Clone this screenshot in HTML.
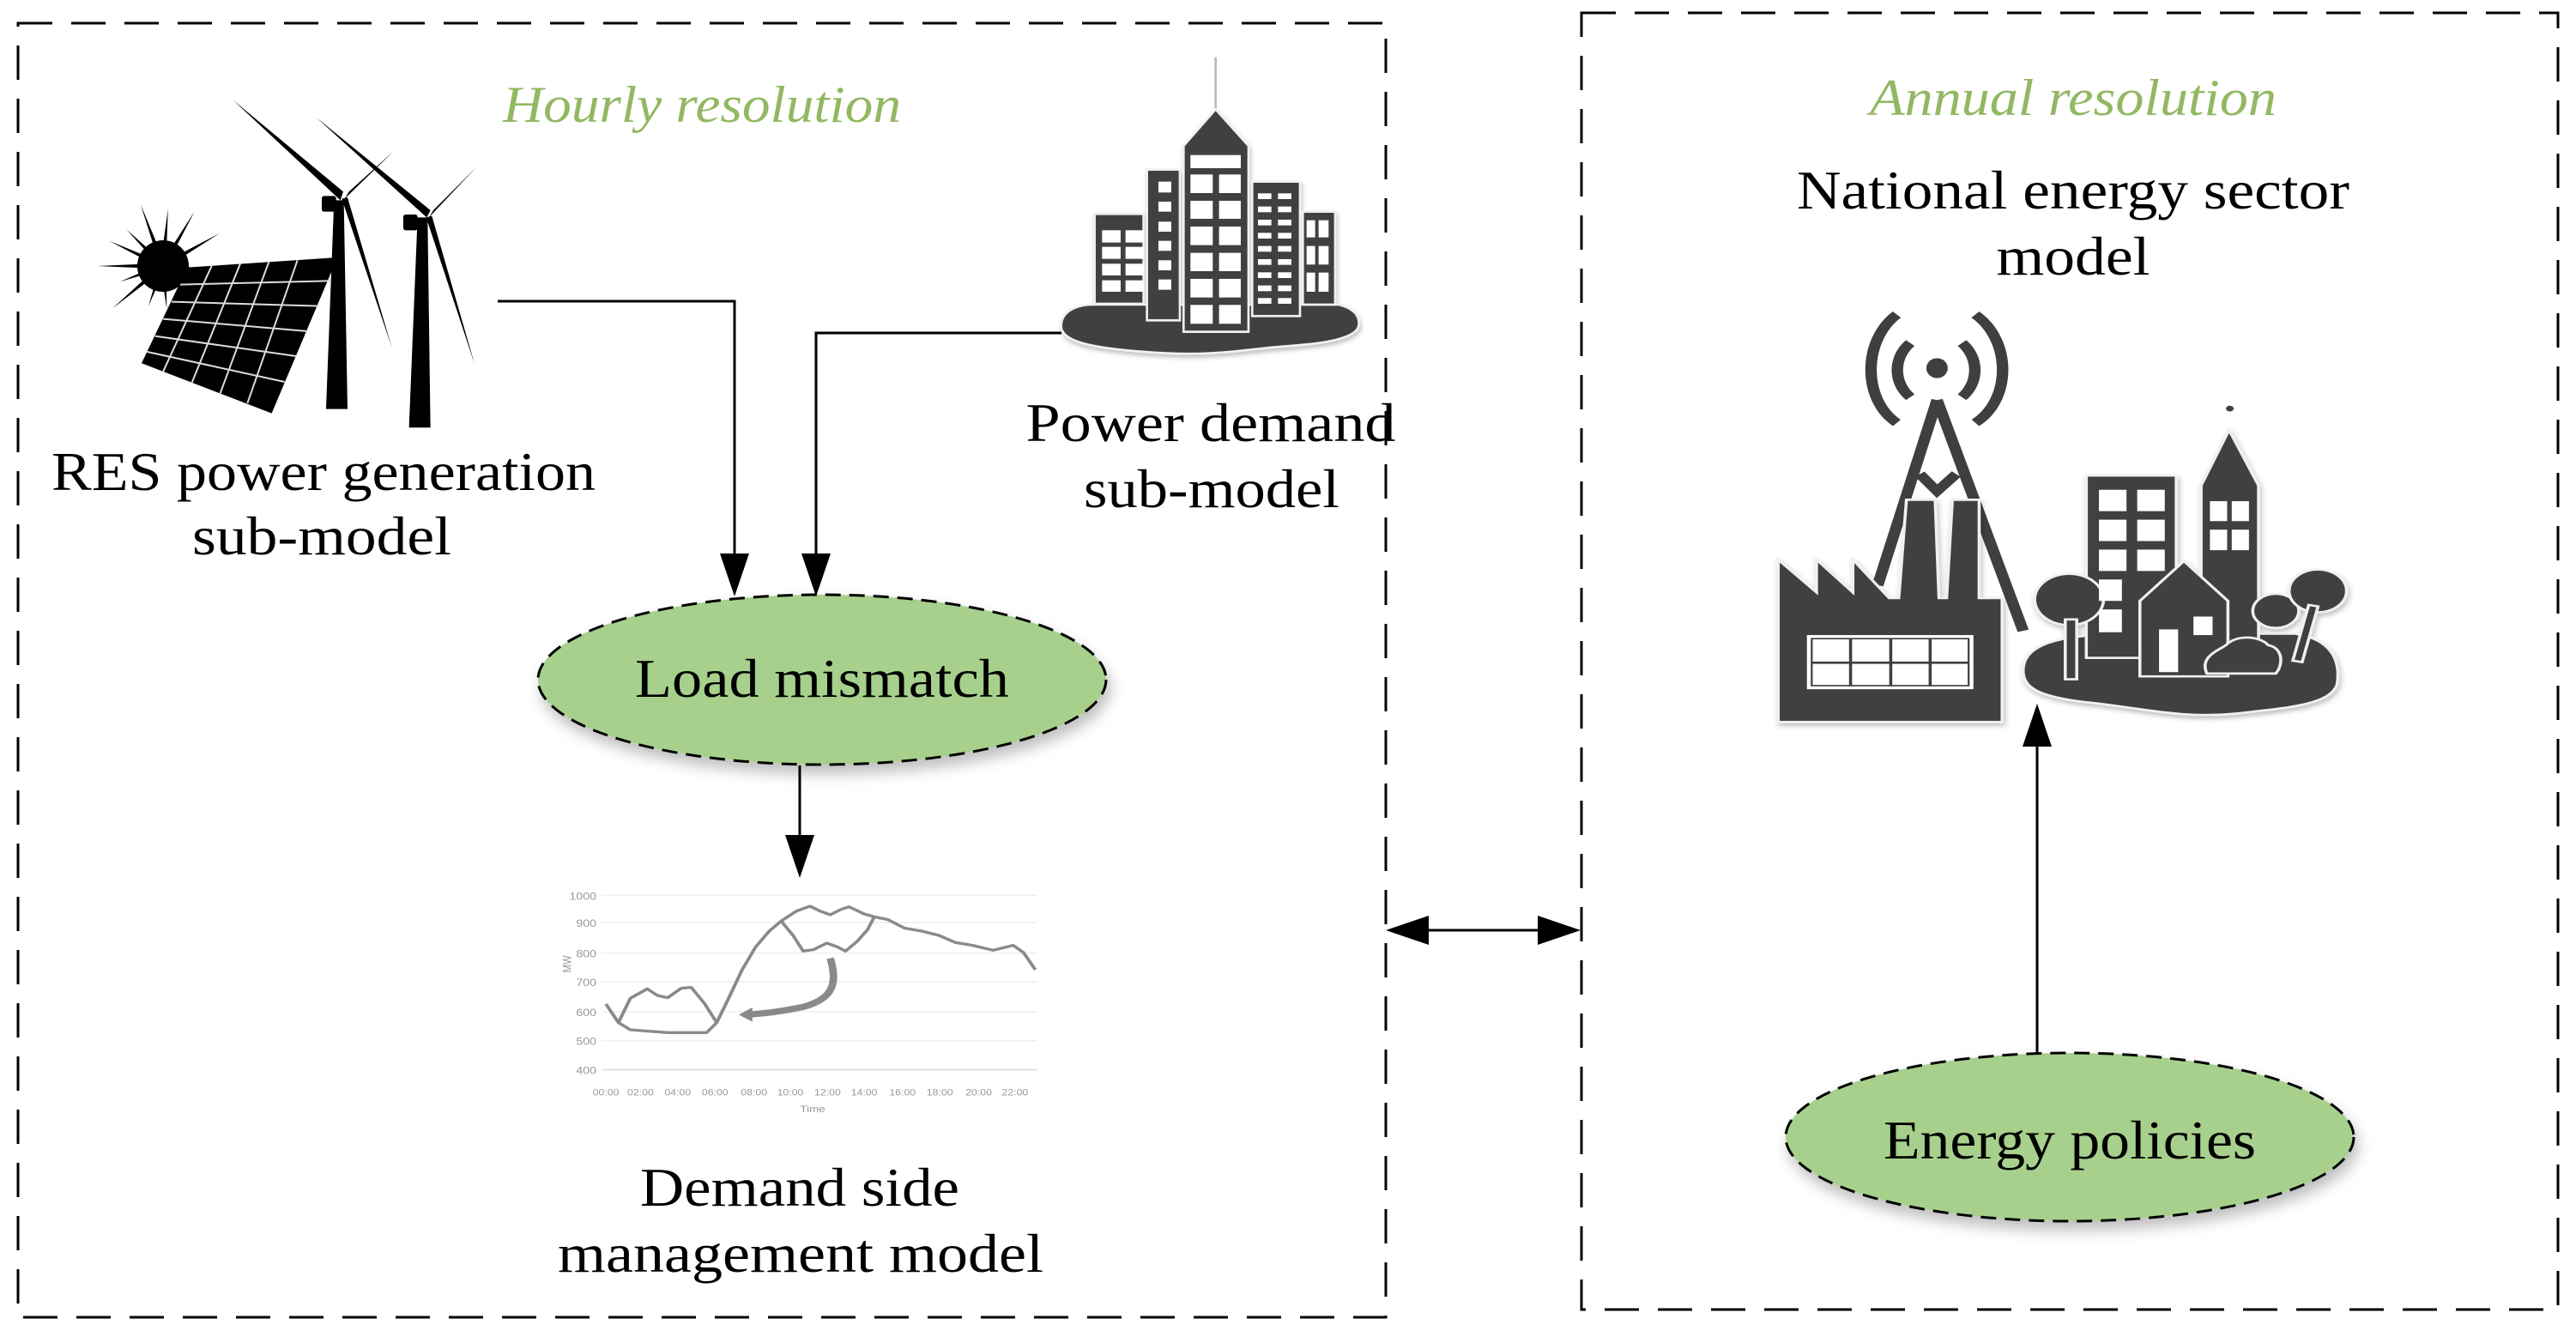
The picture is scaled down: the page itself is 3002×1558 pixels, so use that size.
<!DOCTYPE html>
<html><head><meta charset="utf-8"><style>html,body{margin:0;padding:0;background:#fff}svg{display:block}</style></head>
<body>
<svg width="3002" height="1558" viewBox="0 0 3002 1558" xmlns="http://www.w3.org/2000/svg" font-family="Liberation Serif, serif">
<defs>
<filter id="sh" x="-20%" y="-20%" width="140%" height="150%"><feDropShadow dx="4" dy="10" stdDeviation="8" flood-color="#000" flood-opacity="0.25"/></filter>
</defs>
<rect width="3002" height="1558" fill="#fff"/>
<!-- boxes -->
<rect x="21" y="27" width="1594" height="1508" fill="none" stroke="#000" stroke-width="3" stroke-dasharray="40,22"/>
<rect x="1843" y="15" width="1138" height="1511" fill="none" stroke="#000" stroke-width="3" stroke-dasharray="40,22"/>

<!-- titles -->
<text x="818" y="142" font-size="60" font-style="italic" fill="#92b862" text-anchor="middle" textLength="464" lengthAdjust="spacingAndGlyphs">Hourly resolution</text>
<text x="2416" y="134" font-size="60" font-style="italic" fill="#92b862" text-anchor="middle" textLength="474" lengthAdjust="spacingAndGlyphs">Annual resolution</text>
<text x="2416" y="243" font-size="64" text-anchor="middle" textLength="644" lengthAdjust="spacingAndGlyphs">National energy sector</text>
<text x="2416" y="320" font-size="64" text-anchor="middle" textLength="179" lengthAdjust="spacingAndGlyphs">model</text>
<text x="377" y="571" font-size="64" text-anchor="middle" textLength="634" lengthAdjust="spacingAndGlyphs">RES power generation</text>
<text x="375" y="646" font-size="64" text-anchor="middle" textLength="302" lengthAdjust="spacingAndGlyphs">sub-model</text>
<text x="1411" y="514" font-size="64" text-anchor="middle" textLength="431" lengthAdjust="spacingAndGlyphs">Power demand</text>
<text x="1412" y="591" font-size="64" text-anchor="middle" textLength="298" lengthAdjust="spacingAndGlyphs">sub-model</text>
<text x="932" y="1405" font-size="64" text-anchor="middle" textLength="372" lengthAdjust="spacingAndGlyphs">Demand side</text>
<text x="933" y="1482" font-size="64" text-anchor="middle" textLength="566" lengthAdjust="spacingAndGlyphs">management model</text>

<!-- ellipses -->
<ellipse cx="958" cy="792" rx="331" ry="99" fill="#a8d08d" stroke="#000" stroke-width="3" stroke-dasharray="18,10" filter="url(#sh)"/>
<text x="958" y="812" font-size="64" text-anchor="middle" textLength="436" lengthAdjust="spacingAndGlyphs">Load mismatch</text>
<ellipse cx="2412" cy="1325" rx="331" ry="98" fill="#a8d08d" stroke="#000" stroke-width="3" stroke-dasharray="18,10" filter="url(#sh)"/>
<text x="2412" y="1350" font-size="64" text-anchor="middle" textLength="434" lengthAdjust="spacingAndGlyphs">Energy policies</text>

<!-- connectors -->
<g stroke="#000" stroke-width="3" fill="none">
<polyline points="580,351 856,351 856,650"/>
<polyline points="1237,388 951,388 951,650"/>
<line x1="932" y1="892" x2="932" y2="975"/>
<line x1="1660" y1="1084" x2="1800" y2="1084"/>
<line x1="2374" y1="1228" x2="2374" y2="865"/>
</g>
<g fill="#000">
<polygon points="839,645 873,645 856,695"/>
<polygon points="934,645 968,645 951,695"/>
<polygon points="915,973 949,973 932,1023"/>
<polygon points="1615,1084 1665,1067 1665,1101"/>
<polygon points="1842,1084 1792,1067 1792,1101"/>
<polygon points="2357,870 2391,870 2374,820"/>
</g>

<!-- RES icon -->
<g transform="translate(90,90) scale(0.3333)" fill="#000">
<g transform="translate(300,660)">
<circle r="90"/>
<polygon points="-10,0 10,0 0,-230" transform="rotate(-20)"/>
<polygon points="-10,0 10,0 0,-200" transform="rotate(5)"/>
<polygon points="-10,0 10,0 0,-220" transform="rotate(30)"/>
<polygon points="-10,0 10,0 0,-230" transform="rotate(60)"/>
<polygon points="-10,0 10,0 0,-160" transform="rotate(95)"/>
<polygon points="-10,0 10,0 0,-200" transform="rotate(140)"/>
<polygon points="-10,0 10,0 0,-230" transform="rotate(-130)"/>
<polygon points="-10,0 10,0 0,-160" transform="rotate(-110)"/>
<polygon points="-10,0 10,0 0,-230" transform="rotate(-90)"/>
<polygon points="-10,0 10,0 0,-210" transform="rotate(-65)"/>
<polygon points="-10,0 10,0 0,-180" transform="rotate(-45)"/>
<polygon points="-10,0 10,0 0,-150" transform="rotate(-160)"/>
<polygon points="-10,0 10,0 0,-150" transform="rotate(175)"/>
<polygon points="-10,0 10,0 0,-130" transform="rotate(120)"/>
</g>
<polygon points="385,665 910,630 680,1175 225,1000"/>
<g stroke="#ddd" stroke-width="6" fill="none">
<line x1="360" y1="725" x2="885" y2="712"/>
<line x1="330" y1="785" x2="845" y2="800"/>
<line x1="300" y1="845" x2="805" y2="888"/>
<line x1="272" y1="905" x2="765" y2="975"/>
<line x1="245" y1="960" x2="725" y2="1065"/>
<line x1="470" y1="660" x2="300" y2="1030"/>
<line x1="570" y1="652" x2="400" y2="1070"/>
<line x1="670" y1="646" x2="500" y2="1105"/>
<line x1="770" y1="640" x2="595" y2="1140"/>
</g>
<polygon points="870,1160 945,1160 932,430 898,430"/>
<rect x="855" y="415" width="50" height="55" rx="8"/>
<polygon points="545,80 930,400 920,430"/>
<polygon points="1110,255 935,425 950,400"/>
<polygon points="1100,945 925,425 945,420"/>
<polygon points="1160,1225 1235,1225 1225,490 1190,490"/>
<rect x="1140" y="480" width="50" height="55" rx="8"/>
<polygon points="835,140 1235,465 1222,490"/>
<polygon points="1400,310 1230,490 1245,465"/>
<polygon points="1390,1005 1220,490 1240,485"/>
</g>

<!-- Power demand city -->
<g transform="translate(1150,40) scale(0.3333)">
<line x1="800" y1="80" x2="800" y2="262" stroke="#bbb" stroke-width="8"/>
<g fill="#3f3f3f" stroke="#f0f0f0" stroke-width="8" filter="url(#sh)">
<path d="M 260,1020 C 260,960 330,945 370,945 L 1230,945 C 1290,960 1305,990 1300,1020 C 1290,1060 1200,1080 1050,1090 C 900,1100 800,1130 550,1110 C 350,1095 260,1070 260,1020 Z"/>
<rect x="377" y="628" width="171" height="314"/>
<rect x="1105" y="620" width="113" height="325"/>
<rect x="928" y="515" width="167" height="470"/>
<rect x="560" y="473" width="115" height="527"/>
<polygon points="688,1040 915,1040 915,390 800,262 688,390"/>
</g>
<g fill="#fff">
<rect x="712" y="422" width="176" height="46"/>
<rect x="712" y="490" width="78" height="65"/><rect x="812" y="490" width="76" height="65"/>
<rect x="712" y="582" width="78" height="63"/><rect x="812" y="582" width="76" height="63"/>
<rect x="712" y="672" width="78" height="65"/><rect x="812" y="672" width="76" height="65"/>
<rect x="712" y="764" width="78" height="64"/><rect x="812" y="764" width="76" height="64"/>
<rect x="712" y="855" width="78" height="65"/><rect x="812" y="855" width="76" height="65"/>
<rect x="712" y="946" width="78" height="66"/><rect x="812" y="946" width="76" height="66"/>
<rect x="600" y="515" width="45" height="38"/><rect x="600" y="585" width="45" height="35"/>
<rect x="600" y="655" width="45" height="35"/><rect x="600" y="722" width="45" height="35"/>
<rect x="600" y="790" width="45" height="35"/><rect x="600" y="857" width="45" height="36"/>
<rect x="403" y="685" width="65" height="43"/><rect x="485" y="685" width="63" height="43"/>
<rect x="403" y="743" width="65" height="42"/><rect x="485" y="743" width="63" height="42"/>
<rect x="403" y="802" width="65" height="41"/><rect x="485" y="802" width="63" height="41"/>
<rect x="403" y="860" width="65" height="40"/><rect x="485" y="860" width="63" height="40"/>
<rect x="948" y="556" width="47" height="20"/><rect x="1018" y="556" width="47" height="20"/>
<rect x="948" y="602" width="47" height="20"/><rect x="1018" y="602" width="47" height="20"/>
<rect x="948" y="648" width="47" height="20"/><rect x="1018" y="648" width="47" height="20"/>
<rect x="948" y="694" width="47" height="20"/><rect x="1018" y="694" width="47" height="20"/>
<rect x="948" y="740" width="47" height="20"/><rect x="1018" y="740" width="47" height="20"/>
<rect x="948" y="786" width="47" height="20"/><rect x="1018" y="786" width="47" height="20"/>
<rect x="948" y="832" width="47" height="20"/><rect x="1018" y="832" width="47" height="20"/>
<rect x="948" y="878" width="47" height="20"/><rect x="1018" y="878" width="47" height="20"/>
<rect x="948" y="922" width="47" height="20"/><rect x="1018" y="922" width="47" height="20"/>
<rect x="1118" y="650" width="30" height="60"/><rect x="1160" y="650" width="35" height="60"/>
<rect x="1118" y="740" width="30" height="65"/><rect x="1160" y="740" width="35" height="65"/>
<rect x="1118" y="833" width="30" height="67"/><rect x="1160" y="833" width="35" height="67"/>
</g>
</g>

<!-- chart -->
<g transform="translate(620,1020) scale(0.395,0.3333)">
<g stroke="#f0f0f0" stroke-width="5">
<line x1="205" y1="70" x2="1490" y2="70"/><line x1="205" y1="165" x2="1490" y2="165"/>
<line x1="205" y1="272" x2="1490" y2="272"/><line x1="205" y1="372" x2="1490" y2="372"/>
<line x1="205" y1="477" x2="1490" y2="477"/><line x1="205" y1="578" x2="1490" y2="578"/>
<line x1="205" y1="680" x2="1490" y2="680" stroke="#e0e0e0"/>
</g>
<g fill="none" stroke="#8a8a8a" stroke-width="10" stroke-linejoin="round">
<polyline points="218,450 255,515 290,430 340,397 370,420 400,428 440,395 470,392 510,450 545,515 580,430 620,330 660,250 700,195 735,160 770,210 800,265 830,260 870,237 900,250 925,265 960,230 990,190 1010,145 1050,155 1100,185 1150,195 1200,210 1250,235 1300,245 1360,262 1420,245 1450,270 1485,330"/>
<polyline points="255,515 290,540 400,550 515,550 545,515"/>
<polyline points="735,160 780,125 820,108 850,125 880,138 910,120 935,110 980,135 1010,145"/>
<path d="M 880,290 C 900,370 895,430 800,460 C 720,480 680,482 640,487" stroke-width="22"/>
</g>
<polygon points="610,487 650,462 650,512" fill="#8a8a8a"/>
<g fill="#999" font-size="36" font-family="Liberation Sans, sans-serif" text-anchor="end">
<text x="190" y="85">1000</text><text x="190" y="180">900</text><text x="190" y="287">800</text>
<text x="190" y="387">700</text><text x="190" y="492">600</text><text x="190" y="593">500</text><text x="190" y="695">400</text>
</g>
<g fill="#999" font-size="34" font-family="Liberation Sans, sans-serif" text-anchor="middle">
<text x="218" y="770" textLength="78" lengthAdjust="spacingAndGlyphs">00:00</text><text x="320" y="770" textLength="78" lengthAdjust="spacingAndGlyphs">02:00</text><text x="430" y="770" textLength="78" lengthAdjust="spacingAndGlyphs">04:00</text>
<text x="540" y="770" textLength="78" lengthAdjust="spacingAndGlyphs">06:00</text><text x="655" y="770" textLength="78" lengthAdjust="spacingAndGlyphs">08:00</text><text x="762" y="770" textLength="78" lengthAdjust="spacingAndGlyphs">10:00</text>
<text x="872" y="770" textLength="78" lengthAdjust="spacingAndGlyphs">12:00</text><text x="980" y="770" textLength="78" lengthAdjust="spacingAndGlyphs">14:00</text><text x="1093" y="770" textLength="78" lengthAdjust="spacingAndGlyphs">16:00</text>
<text x="1203" y="770" textLength="78" lengthAdjust="spacingAndGlyphs">18:00</text><text x="1318" y="770" textLength="78" lengthAdjust="spacingAndGlyphs">20:00</text><text x="1425" y="770" textLength="78" lengthAdjust="spacingAndGlyphs">22:00</text>
<text x="828" y="828">Time</text>
<text x="0" y="0" transform="translate(115,310) rotate(-90)">MW</text>
</g>
</g>

<!-- national icon -->
<g transform="translate(2050,340) scale(0.446,0.332)">
<g fill="none" stroke="#3f3f3f" stroke-width="30">
<path d="M 360,80 C 270,170 270,380 360,460"/>
<path d="M 565,80 C 660,170 660,380 565,460"/>
<path d="M 395,180 C 350,230 350,320 395,370"/>
<path d="M 530,180 C 575,230 575,320 530,370"/>
<polyline points="465,380 310,1030"/>
<polyline points="465,380 690,1190"/>
<polyline points="420,640 465,700 515,640"/>
</g>
<ellipse cx="465" cy="268" rx="28" ry="35" fill="#3f3f3f"/>
<g fill="#3f3f3f" stroke="#f0f0f0" stroke-width="8" filter="url(#sh)">
<path d="M 690,1330 C 690,1220 820,1200 1000,1200 L 1400,1200 C 1500,1220 1520,1300 1510,1380 C 1490,1450 1380,1460 1250,1480 C 1100,1500 1000,1460 850,1440 C 730,1420 690,1390 690,1330 Z"/>
<rect x="855" y="645" width="235" height="640"/>
<polygon points="1155,1250 1305,1250 1305,680 1228,485 1155,680"/>
<polygon points="50,1510 635,1510 635,1075 575,1075 575,730 505,730 490,1075 470,1075 460,730 385,730 365,1075 340,1075 245,940 245,1055 150,940 150,1055 50,940"/>
<polygon points="995,1350 995,1085 1110,945 1225,1085 1225,1350"/>
<circle cx="810" cy="1080" r="90"/>
<rect x="800" y="1150" width="30" height="210"/>
<circle cx="1350" cy="1120" r="60"/>
<circle cx="1460" cy="1050" r="75"/>
<rect x="1415" y="1100" width="25" height="200" transform="rotate(12 1430 1200)"/>
<path d="M 1170,1340 C 1150,1280 1200,1260 1220,1240 C 1250,1200 1310,1210 1330,1240 C 1370,1250 1370,1310 1350,1340 Z"/>
</g>
<circle cx="1230" cy="410" r="10" fill="#3f3f3f"/>
<rect x="125" y="1205" width="435" height="190" fill="#fff"/>
<rect x="135" y="1215" width="415" height="170" fill="#3f3f3f"/>
<g fill="#fff">
<rect x="140" y="1220" width="95" height="78"/><rect x="243" y="1220" width="97" height="78"/><rect x="348" y="1220" width="95" height="78"/><rect x="451" y="1220" width="94" height="78"/>
<rect x="140" y="1306" width="95" height="74"/><rect x="243" y="1306" width="97" height="74"/><rect x="348" y="1306" width="95" height="74"/><rect x="451" y="1306" width="94" height="74"/>
<rect x="888" y="695" width="72" height="75"/><rect x="988" y="695" width="72" height="75"/>
<rect x="888" y="800" width="72" height="75"/><rect x="988" y="800" width="72" height="75"/>
<rect x="888" y="905" width="72" height="75"/><rect x="988" y="905" width="72" height="75"/>
<rect x="888" y="1010" width="60" height="75"/>
<rect x="888" y="1115" width="60" height="80"/>
<rect x="1178" y="735" width="45" height="70"/><rect x="1235" y="735" width="45" height="70"/>
<rect x="1178" y="835" width="45" height="72"/><rect x="1235" y="835" width="45" height="72"/>
<rect x="1045" y="1185" width="50" height="150"/>
<rect x="1135" y="1140" width="50" height="65"/>
</g>
</g>
</svg>
</body></html>
